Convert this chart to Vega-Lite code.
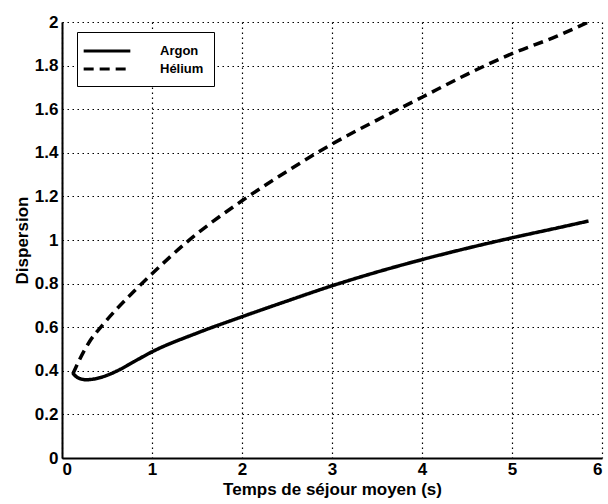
{
  "$schema": "https://vega.github.io/schema/vega-lite/v6.json",
  "autosize": "none",
  "width": 540,
  "height": 436,
  "padding": {"left": 62, "top": 22, "right": 6, "bottom": 46},
  "background": "white",
  "config": {
    "view": {"stroke": null},
    "font": "Liberation Sans",
    "axis": {
      "domainColor": "black",
      "domainWidth": 2,
      "tickColor": "black",
      "tickSize": 0,
      "gridColor": "black",
      "gridDash": [1.5, 3.5],
      "gridWidth": 1.2,
      "gridOpacity": 1,
      "labelColor": "black",
      "labelFontSize": 17,
      "labelFontWeight": "bold",
      "labelFont": "Liberation Sans",
      "titleColor": "black",
      "titleFontSize": 17,
      "titleFontWeight": "bold",
      "titleFont": "Liberation Sans"
    }
  },
  "data": {
    "values": [
      {"x": 0.12, "y": 0.39, "gaz": "Argon"},
      {"x": 0.15, "y": 0.376, "gaz": "Argon"},
      {"x": 0.2, "y": 0.364, "gaz": "Argon"},
      {"x": 0.27, "y": 0.359, "gaz": "Argon"},
      {"x": 0.35, "y": 0.362, "gaz": "Argon"},
      {"x": 0.45, "y": 0.372, "gaz": "Argon"},
      {"x": 0.6, "y": 0.397, "gaz": "Argon"},
      {"x": 0.8, "y": 0.442, "gaz": "Argon"},
      {"x": 1.0, "y": 0.487, "gaz": "Argon"},
      {"x": 1.5, "y": 0.573, "gaz": "Argon"},
      {"x": 2.0, "y": 0.648, "gaz": "Argon"},
      {"x": 2.5, "y": 0.72, "gaz": "Argon"},
      {"x": 3.0, "y": 0.79, "gaz": "Argon"},
      {"x": 3.5, "y": 0.853, "gaz": "Argon"},
      {"x": 4.0, "y": 0.91, "gaz": "Argon"},
      {"x": 4.5, "y": 0.962, "gaz": "Argon"},
      {"x": 5.0, "y": 1.01, "gaz": "Argon"},
      {"x": 5.5, "y": 1.055, "gaz": "Argon"},
      {"x": 5.85, "y": 1.087, "gaz": "Argon"},
      {"x": 0.12, "y": 0.385, "gaz": "Hélium"},
      {"x": 0.2, "y": 0.455, "gaz": "Hélium"},
      {"x": 0.3, "y": 0.53, "gaz": "Hélium"},
      {"x": 0.45, "y": 0.61, "gaz": "Hélium"},
      {"x": 0.6, "y": 0.68, "gaz": "Hélium"},
      {"x": 0.8, "y": 0.765, "gaz": "Hélium"},
      {"x": 1.0, "y": 0.845, "gaz": "Hélium"},
      {"x": 1.4, "y": 0.995, "gaz": "Hélium"},
      {"x": 2.0, "y": 1.18, "gaz": "Hélium"},
      {"x": 2.5, "y": 1.315, "gaz": "Hélium"},
      {"x": 3.0, "y": 1.44, "gaz": "Hélium"},
      {"x": 3.5, "y": 1.55, "gaz": "Hélium"},
      {"x": 4.0, "y": 1.655, "gaz": "Hélium"},
      {"x": 4.5, "y": 1.76, "gaz": "Hélium"},
      {"x": 5.0, "y": 1.855, "gaz": "Hélium"},
      {"x": 5.5, "y": 1.935, "gaz": "Hélium"},
      {"x": 5.85, "y": 2.0, "gaz": "Hélium"}
    ]
  },
  "mark": {"type": "line", "color": "black", "strokeWidth": 3.5, "interpolate": "monotone", "clip": true},
  "encoding": {
    "x": {
      "field": "x", "type": "quantitative",
      "scale": {"domain": [0, 6], "nice": false, "zero": false},
      "axis": {"values": [0, 1, 2, 3, 4, 5, 6], "format": "~g", "title": "Temps de séjour moyen (s)", "labelPadding": 3, "titlePadding": 4}
    },
    "y": {
      "field": "y", "type": "quantitative",
      "scale": {"domain": [0, 2], "nice": false},
      "axis": {"values": [0, 0.2, 0.4, 0.6, 0.8, 1, 1.2, 1.4, 1.6, 1.8, 2], "format": "~g", "title": "Dispersion", "labelPadding": 4, "titlePadding": 3}
    },
    "strokeDash": {
      "field": "gaz", "type": "nominal",
      "scale": {"domain": ["Argon", "Hélium"], "range": [[1, 0], [10, 6]]},
      "legend": {
        "title": null,
        "orient": "none",
        "legendX": 15,
        "legendY": 10,
        "direction": "vertical",
        "symbolType": "M-3.3,0H3.3",
        "symbolSize": 200,
        "symbolOffset": 11,
        "symbolStrokeWidth": 3,
        "symbolStrokeColor": "black",
        "labelFontSize": 13,
        "labelFontWeight": "bold",
        "labelColor": "black",
        "labelOffset": 44,
        "strokeColor": "black",
        "fillColor": "white",
        "padding": 10,
        "rowPadding": 2
      }
    }
  }
}
